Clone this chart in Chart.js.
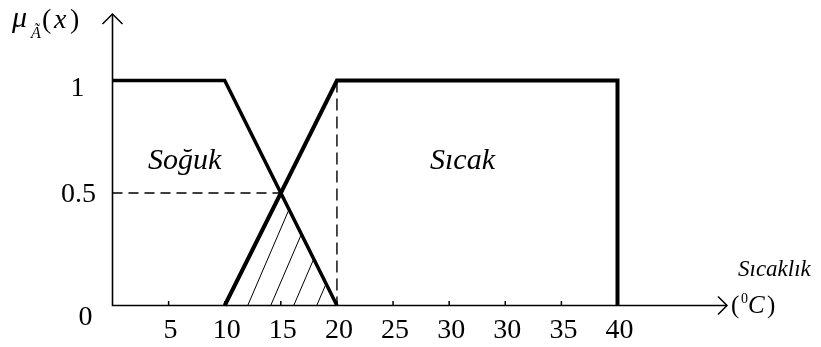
<!DOCTYPE html>
<html>
<head>
<meta charset="utf-8">
<script src="https://cdn.jsdelivr.net/npm/chart.js@4"></script>
<style>
    html, body { margin: 0; padding: 0; background: #fff; }
    #kutu { width: 821px; height: 347px; }
</style>
</head>
<body>
<div id="kutu"><canvas id="uyelikGrafigi" width="821" height="347"></canvas></div>
<script>
// Bulanık küme üyelik fonksiyonları: Soğuk / Sıcak

// Eksen etiketleri
const xTickLabels = ['5', '10', '15', '20', '25', '30', '30', '35', '40'];
const yTickValues = [0, 0.5, 1];
const yTickLabels = ['0', '0.5', '1'];

// Soğuk üyelik fonksiyonu (sıcaklık, üyelik)
const sogukX = [0, 10, 20];
const sogukY = [1, 1, 0];

// Sıcak üyelik fonksiyonu
const sicakX = [10, 20, 40, 40];
const sicakY = [0, 1, 1, 0];

// Kesişim bölgesi (taralı üçgen)
const kesisimX = [10, 15, 20];
const kesisimY = [0, 0.5, 0];

// Kesikli yardımcı çizgiler
const yatayKesikX = [0, 15];
const yatayKesikY = [0.5, 0.5];
const dikeyKesikX = [20, 20];
const dikeyKesikY = [1, 0];

(function() {
    'use strict';

    const serif = '"Liberation Serif", "Times New Roman", serif';

    // Etiket dizisindeki değerler eşit aralıklı yerleşiyor (0 başlangıç)
    const tickValues = [0].concat(xTickLabels.map(Number));

    function toSlot(t) {
        for (let i = 1; i < tickValues.length; i++) {
            if (tickValues[i] >= t) {
                const a = tickValues[i - 1];
                const b = tickValues[i];
                return (i - 1) + (b === a ? 1 : (t - a) / (b - a));
            }
        }
        return tickValues.length - 1;
    }

    function points(xs, ys) {
        return xs.map((t, i) => ({ x: toSlot(t), y: ys[i] }));
    }

    function lineSet(xs, ys, width, dash) {
        return {
            data: points(xs, ys),
            borderColor: '#000',
            borderWidth: width,
            borderDash: dash || [],
            borderCapStyle: 'butt',
            borderJoinStyle: 'miter',
            pointRadius: 0,
            tension: 0,
            fill: false,
            clip: false
        };
    }

    // Kesişim üçgenini eğik çizgilerle tara
    const taramaPlugin = {
        id: 'tarama',
        beforeDatasetsDraw(chart) {
            const { ctx, scales: { x, y } } = chart;
            const pts = points(kesisimX, kesisimY).map(p => ({
                px: x.getPixelForValue(p.x),
                py: y.getPixelForValue(p.y)
            }));
            ctx.save();
            ctx.beginPath();
            pts.forEach((p, i) => i ? ctx.lineTo(p.px, p.py) : ctx.moveTo(p.px, p.py));
            ctx.closePath();
            ctx.clip();
            const taban = pts[0].py;
            const tepe = Math.min(...pts.map(p => p.py)) - 4;
            const egim = 0.43; // yatay kayma / dikey yükselme
            ctx.strokeStyle = '#000';
            ctx.lineWidth = 1;
            ctx.beginPath();
            for (let sx = pts[0].px + 23; sx < pts[pts.length - 1].px; sx += 23) {
                ctx.moveTo(sx, taban);
                ctx.lineTo(sx + (taban - tepe) * egim, tepe);
            }
            ctx.stroke();
            ctx.restore();
        }
    };

    // Eksenler, oklar, etiketler
    const eksenPlugin = {
        id: 'eksen',
        afterDraw(chart) {
            const { ctx, scales: { x, y } } = chart;
            const x0 = x.getPixelForValue(0);
            const y0 = y.getPixelForValue(0);
            const okUcuX = 727;
            const okUcuY = 14;

            ctx.save();
            ctx.strokeStyle = '#000';
            ctx.fillStyle = '#000';
            ctx.lineWidth = 1.6;
            ctx.lineCap = 'butt';

            ctx.beginPath();
            ctx.moveTo(x0, y0 + 0.8);
            ctx.lineTo(x0, okUcuY);
            ctx.moveTo(x0 - 0.8, y0);
            ctx.lineTo(okUcuX, y0);
            ctx.stroke();

            ctx.lineWidth = 1.5;
            ctx.beginPath();
            ctx.moveTo(x0 - 10, okUcuY + 10);
            ctx.lineTo(x0, okUcuY);
            ctx.lineTo(x0 + 10, okUcuY + 10);
            ctx.moveTo(okUcuX - 9, y0 - 9);
            ctx.lineTo(okUcuX, y0);
            ctx.lineTo(okUcuX - 9, y0 + 9);
            ctx.stroke();

            // x çentikleri ve etiketleri
            ctx.font = '28px ' + serif;
            ctx.textAlign = 'center';
            ctx.textBaseline = 'alphabetic';
            ctx.lineWidth = 1.5;
            xTickLabels.forEach((lbl, i) => {
                const px = x.getPixelForValue(i + 1);
                ctx.beginPath();
                ctx.moveTo(px, y0 - 4.5);
                ctx.lineTo(px, y0);
                ctx.stroke();
                ctx.fillText(lbl, px + 2, y0 + 32);
            });

            // y etiketleri
            yTickValues.forEach((v, i) => {
                const py = y.getPixelForValue(v);
                if (v === 0) {
                    ctx.fillText(yTickLabels[i], x0 - 27, py + 19);
                } else if (v === 1) {
                    ctx.fillText(yTickLabels[i], x0 - 35, py + 15);
                } else {
                    ctx.fillText(yTickLabels[i], x0 - 34, py + 9);
                }
            });

            // y ekseni başlığı: μ_Ã(x)
            ctx.textAlign = 'left';
            ctx.font = 'italic 30px ' + serif;
            ctx.fillText('\u03bc', 12, 27);
            ctx.font = 'italic 16px ' + serif;
            ctx.fillText('\u00c3', 31, 38);
            ctx.font = '28px ' + serif;
            ctx.fillText('(', 42, 28);
            ctx.font = 'italic 28px ' + serif;
            ctx.fillText('x', 54, 28);
            ctx.font = '28px ' + serif;
            ctx.fillText(')', 70, 28);

            // küme adları
            ctx.font = 'italic 30px ' + serif;
            ctx.fillText('So\u011fuk', 148, 169);
            ctx.fillText('S\u0131cak', 430, 169);

            // x ekseni başlığı
            ctx.font = 'italic 23px ' + serif;
            ctx.fillText('S\u0131cakl\u0131k', 738, 276);
            ctx.font = '25px ' + serif;
            ctx.fillText('(', 731, 313);
            ctx.font = '14px ' + serif;
            ctx.fillText('0', 741, 303);
            ctx.font = 'italic 25px ' + serif;
            ctx.fillText('C', 748, 313);
            ctx.font = '25px ' + serif;
            ctx.fillText(')', 767, 313);

            ctx.restore();
        }
    };

    function initChart() {
        const canvas = document.getElementById('uyelikGrafigi');
        const ctx = canvas.getContext('2d');

        const config = {
            type: 'line',
            data: {
                datasets: [
                    lineSet(yatayKesikX, yatayKesikY, 1.4, [10, 6]),
                    lineSet(dikeyKesikX, dikeyKesikY, 1.4, [12, 6]),
                    lineSet(sogukX, sogukY, 3.5),
                    lineSet(sicakX, sicakY, 4)
                ]
            },
            options: {
                responsive: false,
                devicePixelRatio: 1,
                animation: false,
                events: [],
                layout: {
                    padding: { left: 112.5, right: 203.5, top: 80.5, bottom: 41.5 }
                },
                plugins: {
                    legend: { display: false },
                    tooltip: { enabled: false }
                },
                scales: {
                    x: { type: 'linear', min: 0, max: xTickLabels.length, display: false },
                    y: { type: 'linear', min: 0, max: 1, display: false }
                }
            },
            plugins: [taramaPlugin, eksenPlugin]
        };

        new Chart(ctx, config);
    }

    initChart();
})();
</script>
</body>
</html>
